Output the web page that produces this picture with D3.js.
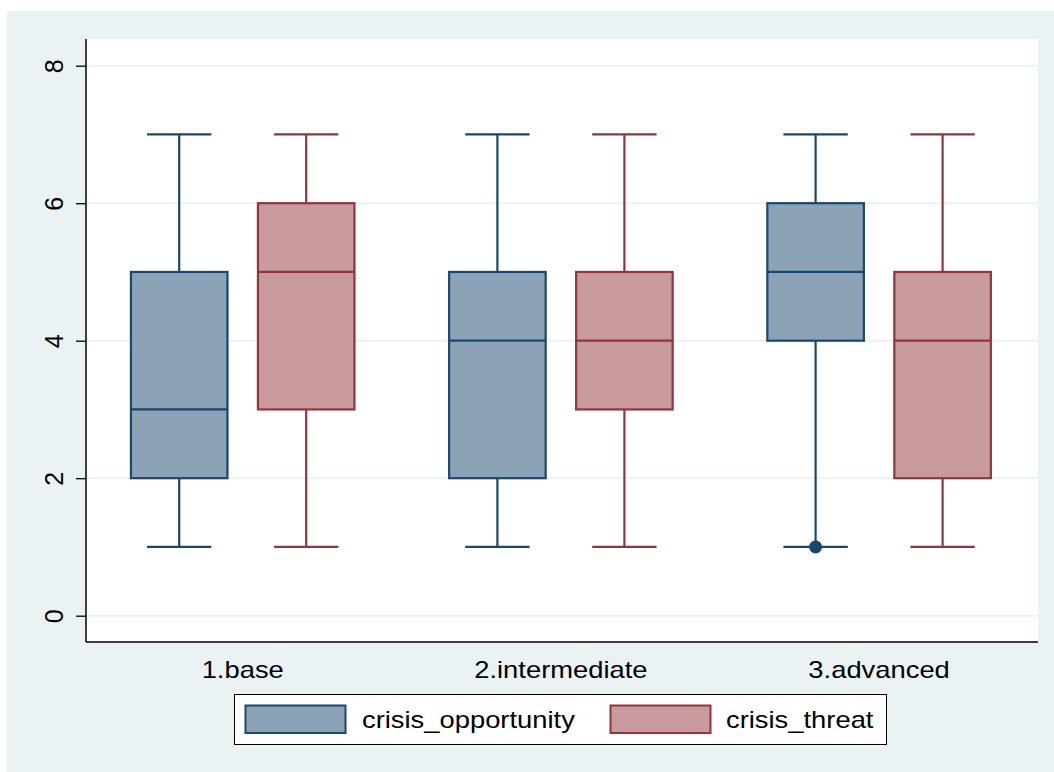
<!DOCTYPE html>
<html>
<head>
<meta charset="utf-8">
<script src="https://cdn.jsdelivr.net/npm/d3@7"></script>
<style>
  html, body { margin: 0; padding: 0; background: #ffffff; }
  svg { display: block; font-family: "Liberation Sans", Arial, sans-serif; }
</style>
</head>
<body>
<svg id="chart" width="1054" height="772"></svg>
<script>
// Groups along the x axis and the two variables drawn as boxes
const groups = ["1.base", "2.intermediate", "3.advanced"];
const seriesNames = ["crisis_opportunity", "crisis_threat"];

// Five-number summaries per group: [lower whisker, q1, median, q3, upper whisker]
const opportunityStats = [
  [1, 2, 3, 5, 7],
  [1, 2, 4, 5, 7],
  [1, 4, 5, 6, 7]
];
const threatStats = [
  [1, 3, 5, 6, 7],
  [1, 3, 4, 5, 7],
  [1, 2, 4, 5, 7]
];
// Outside values: [group index, series index, value]
const outsideValues = [
  [2, 0, 1]
];
const yTicks = [0, 2, 4, 6, 8];

const strokeColors = ["#1a476f", "#90353b"];
const fillColors = ["#8ca3b7", "#c89a9d"];
const bgColor = "#eaf2f3";
const textStretch = 1.19;
const textSize = 23;

const svg = d3.select("#chart");

// Outer graph region
svg.append("rect").attr("x", 7).attr("y", 11).attr("width", 1047).attr("height", 761).attr("fill", bgColor);

const plot = { left: 86, right: 1038, top: 39, bottom: 642 };

// Plot region
svg.append("rect")
  .attr("x", plot.left).attr("y", plot.top)
  .attr("width", plot.right - plot.left).attr("height", plot.bottom - plot.top)
  .attr("fill", "#ffffff");

const y = d3.scaleLinear().domain([0, 8]).range([615.7, 65.7]);
const x = d3.scaleBand().domain(groups).range([83.6, 1038.2]).padding(0);
const inner = d3.scaleBand().domain(seriesNames).range([-127, 127]).paddingInner(0.24).paddingOuter(0.12);

// Grid lines
svg.append("g").selectAll("line").data(yTicks).join("line")
  .attr("x1", plot.left).attr("x2", plot.right)
  .attr("y1", d => y(d)).attr("y2", d => y(d))
  .attr("stroke", bgColor).attr("stroke-width", 2);

// Y axis with rotated labels
const yAxis = svg.append("g")
  .attr("transform", `translate(${plot.left},0)`)
  .call(d3.axisLeft(y).tickValues(yTicks).tickSize(10).tickPadding(0));
yAxis.select(".domain").remove();
yAxis.selectAll(".tick line").attr("stroke", "#000").attr("stroke-width", 1.3);
yAxis.selectAll(".tick text")
  .attr("x", 0).attr("dy", null)
  .attr("transform", "translate(-32,0) rotate(-90)")
  .attr("text-anchor", "middle")
  .attr("dominant-baseline", "central")
  .attr("font-size", 25)
  .attr("font-family", "Liberation Sans, Arial, sans-serif")
  .attr("fill", "#000");
svg.append("line")
  .attr("x1", plot.left).attr("x2", plot.left)
  .attr("y1", plot.top).attr("y2", plot.bottom)
  .attr("stroke", "#000").attr("stroke-width", 1.5);

// X axis: category labels only
const xAxis = svg.append("g")
  .attr("transform", `translate(0,${plot.bottom})`)
  .call(d3.axisBottom(x).tickSize(0));
xAxis.select(".domain").remove();
xAxis.selectAll(".tick text")
  .attr("y", 0).attr("dy", null)
  .attr("transform", `translate(0,36) scale(${textStretch},1)`)
  .attr("text-anchor", "middle")
  .attr("font-size", textSize)
  .attr("font-family", "Liberation Sans, Arial, sans-serif")
  .attr("fill", "#000");
svg.append("line")
  .attr("x1", plot.left).attr("x2", plot.right)
  .attr("y1", plot.bottom).attr("y2", plot.bottom)
  .attr("stroke", "#000").attr("stroke-width", 1.5);

// Box records
const allStats = [opportunityStats, threatStats];
const boxes = [];
groups.forEach((g, gi) => {
  seriesNames.forEach((s, si) => {
    const st = allStats[si][gi];
    boxes.push({ group: g, series: s, si, lo: st[0], q1: st[1], med: st[2], q3: st[3], hi: st[4] });
  });
});

const bw = inner.bandwidth();
const capW = bw * 2 / 3;
const lw = 2.2;
const cx = d => x(d.group) + x.bandwidth() / 2 + inner(d.series) + bw / 2;

const boxG = svg.append("g").selectAll("g").data(boxes).join("g");

// Whiskers
boxG.append("line")
  .attr("x1", cx).attr("x2", cx)
  .attr("y1", d => y(d.q3)).attr("y2", d => y(d.hi))
  .attr("stroke", d => strokeColors[d.si]).attr("stroke-width", lw);
boxG.append("line")
  .attr("x1", cx).attr("x2", cx)
  .attr("y1", d => y(d.q1)).attr("y2", d => y(d.lo))
  .attr("stroke", d => strokeColors[d.si]).attr("stroke-width", lw);
boxG.append("line")
  .attr("x1", d => cx(d) - capW / 2).attr("x2", d => cx(d) + capW / 2)
  .attr("y1", d => y(d.hi)).attr("y2", d => y(d.hi))
  .attr("stroke", d => strokeColors[d.si]).attr("stroke-width", lw);
boxG.append("line")
  .attr("x1", d => cx(d) - capW / 2).attr("x2", d => cx(d) + capW / 2)
  .attr("y1", d => y(d.lo)).attr("y2", d => y(d.lo))
  .attr("stroke", d => strokeColors[d.si]).attr("stroke-width", lw);

// Interquartile boxes and medians
boxG.append("rect")
  .attr("x", d => cx(d) - bw / 2).attr("width", bw)
  .attr("y", d => y(d.q3)).attr("height", d => y(d.q1) - y(d.q3))
  .attr("fill", d => fillColors[d.si])
  .attr("stroke", d => strokeColors[d.si]).attr("stroke-width", lw);
boxG.append("line")
  .attr("x1", d => cx(d) - bw / 2).attr("x2", d => cx(d) + bw / 2)
  .attr("y1", d => y(d.med)).attr("y2", d => y(d.med))
  .attr("stroke", d => strokeColors[d.si]).attr("stroke-width", lw);

// Outside values
svg.append("g").selectAll("circle").data(outsideValues).join("circle")
  .attr("cx", d => x(groups[d[0]]) + x.bandwidth() / 2 + inner(seriesNames[d[1]]) + inner.bandwidth() / 2)
  .attr("cy", d => y(d[2]))
  .attr("r", 6.5)
  .attr("fill", d => strokeColors[d[1]]);

// Legend
const legend = svg.append("g");
legend.append("rect")
  .attr("x", 234.5).attr("y", 694.5).attr("width", 652).attr("height", 50)
  .attr("fill", "#fff").attr("stroke", "#000").attr("stroke-width", 1);
const keyX = [245.5, 610.5];
const labelX = [362, 726];
seriesNames.forEach((s, i) => {
  legend.append("rect")
    .attr("x", keyX[i]).attr("y", 705.5).attr("width", 100).attr("height", 27.5)
    .attr("fill", fillColors[i]).attr("stroke", strokeColors[i]).attr("stroke-width", 2);
  legend.append("text")
    .attr("transform", `translate(${labelX[i]},727.5) scale(${textStretch},1)`)
    .attr("font-size", textSize)
    .attr("fill", "#000")
    .text(s);
});
</script>
</body>
</html>
